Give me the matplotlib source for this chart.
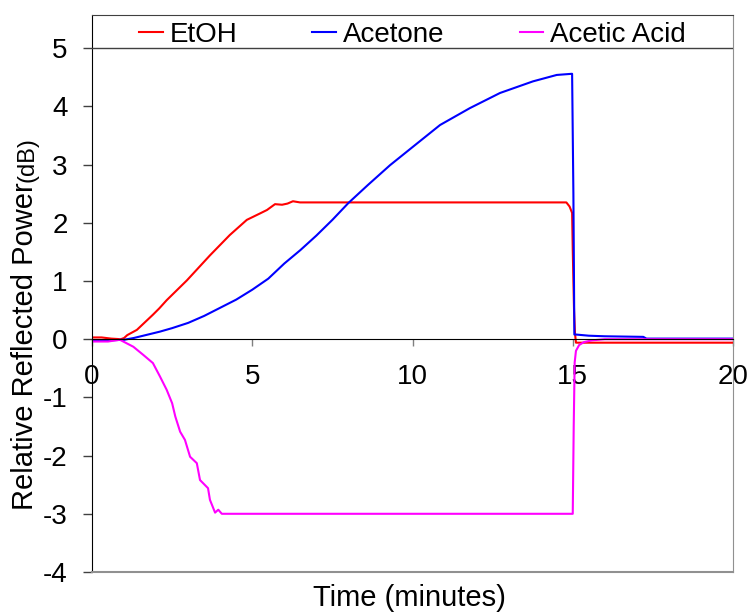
import matplotlib
matplotlib.use("Agg")
import matplotlib.pyplot as plt

plt.rcParams['font.family'] = ['Liberation Sans', 'DejaVu Sans']
plt.rcParams['axes.unicode_minus'] = False

# EtOH (red)
t_etoh = [0, 0.3, 0.6, 0.9, 1.0, 1.1, 1.4, 1.9, 2.1, 2.33, 2.96, 3.68, 4.3, 4.83,
          5.24, 5.46, 5.71, 5.93, 6.1, 6.27, 6.49, 14.8, 14.9, 14.98, 15.0, 15.04,
          15.07, 15.1, 20]
etoh = [0.03, 0.03, 0.01, 0.0, 0.02, 0.07, 0.16, 0.42, 0.53, 0.67, 1.01, 1.44, 1.79, 2.05,
        2.16, 2.22, 2.32, 2.31, 2.33, 2.37, 2.35, 2.35, 2.28, 2.17, 1.53, 0.5,
        0.1, -0.06, -0.06]

# Acetone (blue)
t_ace = [0, 0.5, 1.0, 1.3, 1.6, 2.12, 2.5, 3.0, 3.5, 4.0, 4.5, 5.0, 5.5, 6.0,
         6.5, 7.0, 7.5, 8.0, 8.61, 9.3, 10.0, 10.86, 11.79, 12.73, 13.76, 14.5,
         14.98, 15.02, 15.05, 15.1, 15.5, 16.0, 17.2, 17.3, 20]
ace = [-0.02, -0.02, -0.01, 0.02, 0.06, 0.13, 0.19, 0.28, 0.40, 0.54, 0.68, 0.85, 1.04, 1.3,
       1.53, 1.78, 2.05, 2.34, 2.65, 2.99, 3.30, 3.68, 3.97, 4.23, 4.43, 4.54,
       4.56, 2.5, 0.08, 0.08, 0.06, 0.05, 0.04, 0.01, 0.01]

# Acetic Acid (magenta)
t_aa = [0, 0.5, 0.87, 1.29, 1.6, 1.9, 2.12, 2.33, 2.5, 2.6, 2.75, 2.9, 3.06, 3.27,
        3.37, 3.62, 3.68, 3.84, 3.94, 4.05, 15.0, 15.03, 15.06, 15.1, 15.2, 15.35,
        15.6, 16.0, 20]
aa = [-0.04, -0.04, -0.01, -0.13, -0.27, -0.41, -0.64, -0.87, -1.1, -1.33, -1.59, -1.73, -2.02, -2.13,
      -2.42, -2.56, -2.76, -2.98, -2.93, -3.0, -3.0, -1.5, -0.4, -0.2, -0.1, -0.05,
      -0.02, 0.0, 0.0]

xticks = [0, 5, 10, 15, 20]
yticks = [-4, -3, -2, -1, 0, 1, 2, 3, 4, 5]

W, H = 748, 614
fig = plt.figure(figsize=(W / 100, H / 100), dpi=100)
ax = fig.add_axes([92 / W, 1 - 572 / H, (733 - 92) / W, (572 - 15) / H])

ax.plot(t_etoh, etoh, color='#ff0000', lw=1.5, label='EtOH')
ax.plot(t_ace, ace, color='#0000ff', lw=1.5, label='Acetone')
ax.plot(t_aa, aa, color='#ff00ff', lw=1.5, label='Acetic Acid')

ax.set_xlim(0, 20)
ax.set_ylim(-4, 5.57)

# frame
ax.spines['left'].set_color('black')
ax.spines['top'].set_color('#404040')
ax.spines['right'].set_color('#909090')
ax.spines['bottom'].set_position(('data', 0))
ax.spines['bottom'].set_color('black')
ax.axhline(-4, color='#909090', lw=1.5, clip_on=False, zorder=3)
ax.axhline(5, color='#404040', lw=1, zorder=3)

ax.set_xticks(xticks)
ax.set_yticks(yticks)
ax.tick_params(axis='x', direction='out', length=5, width=1, color='#808080',
               pad=13, labelsize=20)
ax.tick_params(axis='y', direction='out', length=6.5, width=1, color='#404040',
               pad=11, labelsize=20)

ax.legend(loc='center', bbox_to_anchor=(0.5, 0.964), ncol=3, frameon=False,
          fontsize=20, handlelength=0.85, handletextpad=0.25, columnspacing=2.7,
          borderaxespad=0)

fig.text(409 / W, 1 - 598 / H, 'Time (minutes)', fontsize=21, ha='center', va='center')

r = fig.canvas.get_renderer()
yl = fig.text(33 / W, 1 - 510 / H, 'Relative Reflected Power', fontsize=21,
              rotation=90, rotation_mode='anchor', ha='left', va='baseline')
ext = yl.get_window_extent(renderer=r)
fig.text(33 / W, ext.y1 / H, '(dB)', fontsize=17,
         rotation=90, rotation_mode='anchor', ha='left', va='baseline')

fig.savefig('out.png', dpi=100)
